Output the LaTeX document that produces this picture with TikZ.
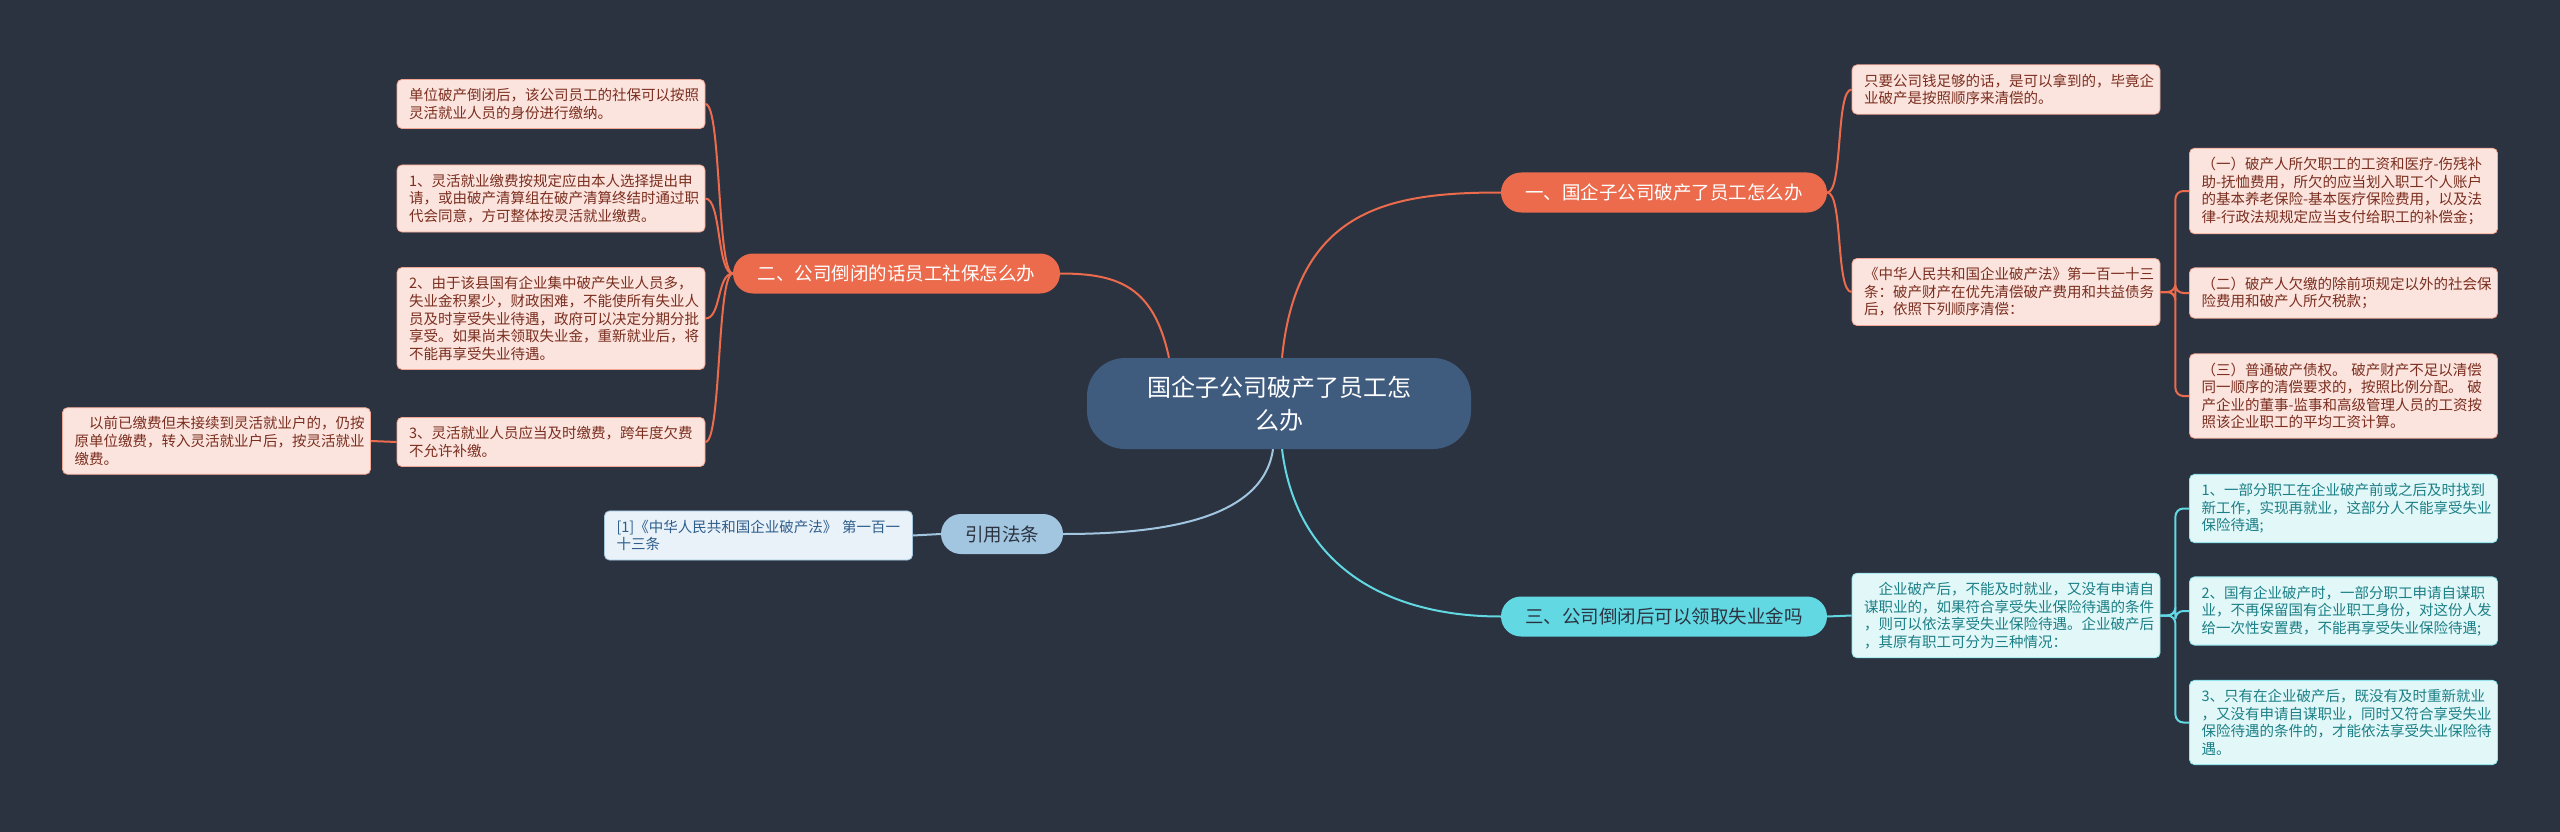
\documentclass[tikz,border=0pt]{standalone}
\usepackage{fontspec}
\setmainfont{Noto Sans CJK SC}
\definecolor{bgc}{HTML}{2B3341}
\definecolor{orangec}{HTML}{EB6B4C}
\definecolor{cyanc}{HTML}{62D8E2}
\definecolor{lblue}{HTML}{A2C5E0}
\definecolor{centerc}{HTML}{3F5B7E}
\definecolor{pinkfill}{HTML}{FCE4DE}
\definecolor{pinktext}{HTML}{7A2E1F}
\definecolor{cyanfill}{HTML}{E2F7F8}
\definecolor{cyantext}{HTML}{1B7F86}
\definecolor{citfill}{HTML}{E9F2F9}
\definecolor{cittext}{HTML}{2F5E8C}
\tikzset{
  leafbase/.style={rectangle, rounded corners=5pt, minimum width=308pt, text width=284pt,
    inner xsep=12pt, inner ysep=9pt, align=left, line width=0.8pt,
    font=\fontsize{14.5}{17.6}\selectfont},
  pinkleaf/.style={leafbase, fill=pinkfill, draw=orangec!60, text=pinktext},
  cyanleaf/.style={leafbase, fill=cyanfill, draw=cyanc!70, text=cyantext},
  citleaf/.style={leafbase, fill=citfill, draw=lblue, text=cittext},
  branchbox/.style={rectangle, rounded corners=20pt, minimum height=40pt, inner xsep=14pt,
    font=\fontsize{18.5}{22}\selectfont},
  orangeline/.style={draw=orangec, line width=2pt},
  cyanline/.style={draw=cyanc, line width=2pt},
  blueline/.style={draw=lblue, line width=2pt},
}
\begin{document}
\begin{tikzpicture}[x=1pt,y=-1pt]
\fill[bgc] (0,0) rectangle (2560,832);
\useasboundingbox (0,0) rectangle (2560,832);

% center
\node[rectangle, rounded corners=38pt, fill=centerc, text=white, minimum width=384pt, minimum height=91pt,
  align=center, font=\fontsize{24}{33}\selectfont] (center) at (1279,403.5) {国企子公司破产了员工怎\\么办};

% branches
\node[branchbox, fill=orangec, text=white, minimum width=326pt] (b1) at (1664,192.5) {一、国企子公司破产了员工怎么办};
\node[branchbox, fill=orangec, text=white, minimum width=327pt] (b2) at (896.5,273.5) {二、公司倒闭的话员工社保怎么办};
\node[branchbox, fill=cyanc, text=bgc, minimum width=326pt] (b3) at (1664,616.5) {三、公司倒闭后可以领取失业金吗};
\node[branchbox, fill=lblue, text=bgc, minimum width=122pt] (b4) at (1002,534) {引用法条};

% branch 1 leaves
\node[pinkleaf] (l1a) at (2006,89.5) {只要公司钱足够的话，是可以拿到的，毕竟企\\业破产是按照顺序来清偿的。};
\node[pinkleaf] (l1b) at (2006,292) {《中华人民共和国企业破产法》第一百一十三\\条：破产财产在优先清偿破产费用和共益债务\\后，依照下列顺序清偿：};
\node[pinkleaf] (c1) at (2343.5,191) {（一）破产人所欠职工的工资和医疗-伤残补\\助-抚恤费用，所欠的应当划入职工个人账户\\的基本养老保险-基本医疗保险费用，以及法\\律-行政法规规定应当支付给职工的补偿金；};
\node[pinkleaf] (c2) at (2343.5,293) {（二）破产人欠缴的除前项规定以外的社会保\\险费用和破产人所欠税款；};
\node[pinkleaf] (c3) at (2343.5,396) {（三）普通破产债权。 破产财产不足以清偿\\同一顺序的清偿要求的，按照比例分配。 破\\产企业的董事-监事和高级管理人员的工资按\\照该企业职工的平均工资计算。};

% branch 3 leaves
\node[cyanleaf] (l3) at (2006,615.5) {\hspace*{1em}企业破产后，不能及时就业，又没有申请自\\谋职业的，如果符合享受失业保险待遇的条件\\，则可以依法享受失业保险待遇。企业破产后\\，其原有职工可分为三种情况：};
\node[cyanleaf] (d1) at (2343.5,508.5) {1、一部分职工在企业破产前或之后及时找到\\新工作，实现再就业，这部分人不能享受失业\\保险待遇;};
\node[cyanleaf] (d2) at (2343.5,611) {2、国有企业破产时，一部分职工申请自谋职\\业，不再保留国有企业职工身份，对这份人发\\给一次性安置费，不能再享受失业保险待遇;};
\node[cyanleaf] (d3) at (2343.5,722.5) {3、只有在企业破产后，既没有及时重新就业\\，又没有申请自谋职业，同时又符合享受失业\\保险待遇的条件的，才能依法享受失业保险待\\遇。};

% branch 2 leaves
\node[pinkleaf] (e1) at (551,104) {单位破产倒闭后，该公司员工的社保可以按照\\灵活就业人员的身份进行缴纳。};
\node[pinkleaf] (e2) at (551,198.5) {1、灵活就业缴费按规定应由本人选择提出申\\请，或由破产清算组在破产清算终结时通过职\\代会同意，方可整体按灵活就业缴费。};
\node[pinkleaf] (e3) at (551,318.5) {2、由于该县国有企业集中破产失业人员多，\\失业金积累少，财政困难，不能使所有失业人\\员及时享受失业待遇，政府可以决定分期分批\\享受。如果尚未领取失业金，重新就业后，将\\不能再享受失业待遇。};
\node[pinkleaf] (e4) at (551,442) {3、灵活就业人员应当及时缴费，跨年度欠费\\不允许补缴。};
\node[pinkleaf] (e4c) at (216.5,441) {\hspace*{1em}以前已缴费但未接续到灵活就业户的，仍按\\原单位缴费，转入灵活就业户后，按灵活就业\\缴费。};

% citation
\node[citleaf] (cit) at (758.5,535.5) {[1]《中华人民共和国企业破产法》 第一百一\\十三条};

% center connectors
\draw[orangeline] ([xshift=3pt]center.north) .. controls ++(15,-150) and ++(-110,0) .. (b1.west);
\draw[cyanline] ([xshift=3pt]center.south) .. controls ++(15,120) and ++(-110,0) .. (b3.west);
\draw[orangeline] ([xshift=-110pt]center.north) .. controls ++(-15,-70) and ++(60,0) .. (b2.east);
\draw[blueline] ([xshift=-6pt]center.south) .. controls ++(-10,70) and ++(100,0) .. (b4.east);

% branch 1 leaf connectors
\draw[orangeline] (b1.east) .. controls ++(16,0) and ++(-16,0) .. (l1a.west);
\draw[orangeline] (b1.east) .. controls ++(16,0) and ++(-16,0) .. (l1b.west);
\draw[orangeline, rounded corners=8pt] (l1b.east) -- ++(15,0) |- (c1.west);
\draw[orangeline, rounded corners=8pt] (l1b.east) -- ++(15,0) |- (c2.west);
\draw[orangeline, rounded corners=8pt] (l1b.east) -- ++(15,0) |- (c3.west);

% branch 3 leaf connectors
\draw[cyanline] (b3.east) -- (l3.west);
\draw[cyanline, rounded corners=8pt] (l3.east) -- ++(15,0) |- (d1.west);
\draw[cyanline, rounded corners=8pt] (l3.east) -- ++(15,0) |- (d2.west);
\draw[cyanline, rounded corners=8pt] (l3.east) -- ++(15,0) |- (d3.west);

% branch 2 leaf connectors
\draw[orangeline] (b2.west) .. controls ++(-16,0) and ++(16,0) .. (e1.east);
\draw[orangeline] (b2.west) .. controls ++(-16,0) and ++(16,0) .. (e2.east);
\draw[orangeline] (b2.west) .. controls ++(-16,0) and ++(16,0) .. (e3.east);
\draw[orangeline] (b2.west) .. controls ++(-16,0) and ++(16,0) .. (e4.east);
\draw[orangeline] (e4.west) -- (e4c.east);

% citation connector
\draw[blueline] (b4.west) -- (cit.east);
\end{tikzpicture}
\end{document}
